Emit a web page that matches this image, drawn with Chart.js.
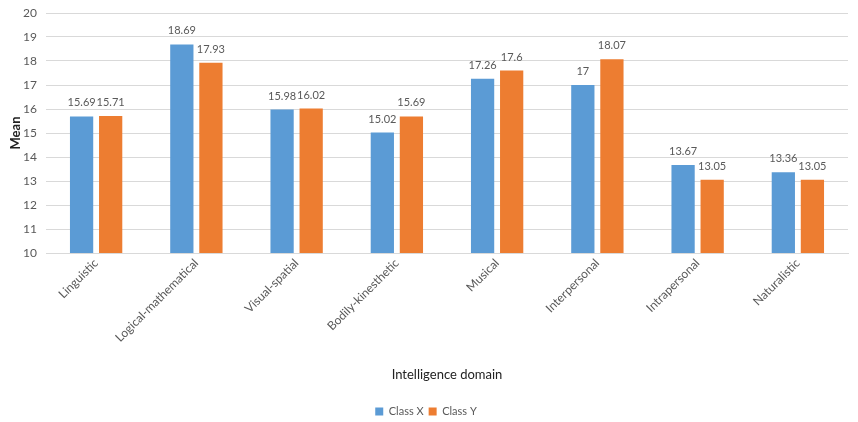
<!DOCTYPE html>
<html>
<head>
<meta charset="utf-8">
<script src="https://cdn.jsdelivr.net/npm/chart.js@4/dist/chart.umd.min.js"></script>
<style>
  body { margin: 0; background: #fff; }
  #wrap { width: 858px; height: 422px; }
</style>
</head>
<body>
<div id="wrap"><canvas id="chart"></canvas></div>
<script>
var categories = ['Linguistic', 'Logical-mathematical', 'Visual-spatial', 'Bodily-kinesthetic',
    'Musical', 'Interpersonal', 'Intrapersonal', 'Naturalistic'];
var classX = [15.69, 18.69, 15.98, 15.02, 17.26, 17, 13.67, 13.36];
var classY = [15.71, 17.93, 16.02, 15.69, 17.6, 18.07, 13.05, 13.05];
var yTicks = { min: 10, max: 20, step: 1 };

var textColor = '#595959';
var fontFamily = "Lato, 'Open Sans', sans-serif";

// draw the value above every bar
var valueLabels = {
    id: 'valueLabels',
    afterDatasetsDraw: function (chart) {
        var ctx = chart.ctx;
        ctx.save();
        ctx.fillStyle = textColor;
        ctx.font = '11px ' + fontFamily;
        ctx.textAlign = 'center';
        ctx.textBaseline = 'bottom';
        chart.data.datasets.forEach(function (ds, i) {
            chart.getDatasetMeta(i).data.forEach(function (bar, j) {
                ctx.fillText(String(ds.data[j]), bar.x, bar.y - 8);
            });
        });
        ctx.restore();
    }
};

var ctx = document.getElementById('chart').getContext('2d');
new Chart(ctx, {
    type: 'bar',
    data: {
        labels: categories,
        datasets: [{
            label: 'Class X',
            data: classX,
            backgroundColor: '#5B9BD5',
            categoryPercentage: 0.58,
            barPercentage: 0.8
        }, {
            label: 'Class Y',
            data: classY,
            backgroundColor: '#ED7D31',
            categoryPercentage: 0.58,
            barPercentage: 0.8
        }]
    },
    options: {
        responsive: true,
        maintainAspectRatio: false,
        animation: false,
        layout: { padding: { top: 0, right: 10, left: 4, bottom: -5 } },
        plugins: {
            legend: {
                position: 'bottom',
                labels: {
                    boxWidth: 8,
                    boxHeight: 8,
                    color: textColor,
                    font: { size: 11, family: fontFamily },
                    padding: 5
                }
            },
            tooltip: { enabled: false }
        },
        scales: {
            x: {
                grid: { display: false, drawTicks: false },
                border: { color: '#d9d9d9' },
                ticks: {
                    color: textColor,
                    font: { size: 12, family: fontFamily },
                    maxRotation: 45,
                    minRotation: 45,
                    padding: 3
                },
                afterFit: function (scale) {
                    scale.paddingLeft = 0;
                    scale.paddingRight = 0;
                    scale.height = 148;
                },
                title: {
                    display: true,
                    text: 'Intelligence domain',
                    color: '#222',
                    font: { size: 13, family: fontFamily },
                    padding: { top: 4, bottom: 18 }
                }
            },
            y: {
                min: yTicks.min,
                max: yTicks.max,
                grid: { color: '#d9d9d9', drawTicks: false },
                border: { display: false },
                afterFit: function (scale) {
                    scale.width = 42;
                    scale.paddingTop = 13;
                },
                ticks: {
                    stepSize: yTicks.step,
                    color: textColor,
                    font: { size: 12, family: fontFamily },
                    padding: 9
                },
                title: {
                    display: true,
                    text: 'Mean',
                    color: '#222',
                    font: { size: 13, weight: 'bold', family: fontFamily },
                    padding: { bottom: 2 }
                }
            }
        }
    },
    plugins: [valueLabels]
});
</script>
</body>
</html>
